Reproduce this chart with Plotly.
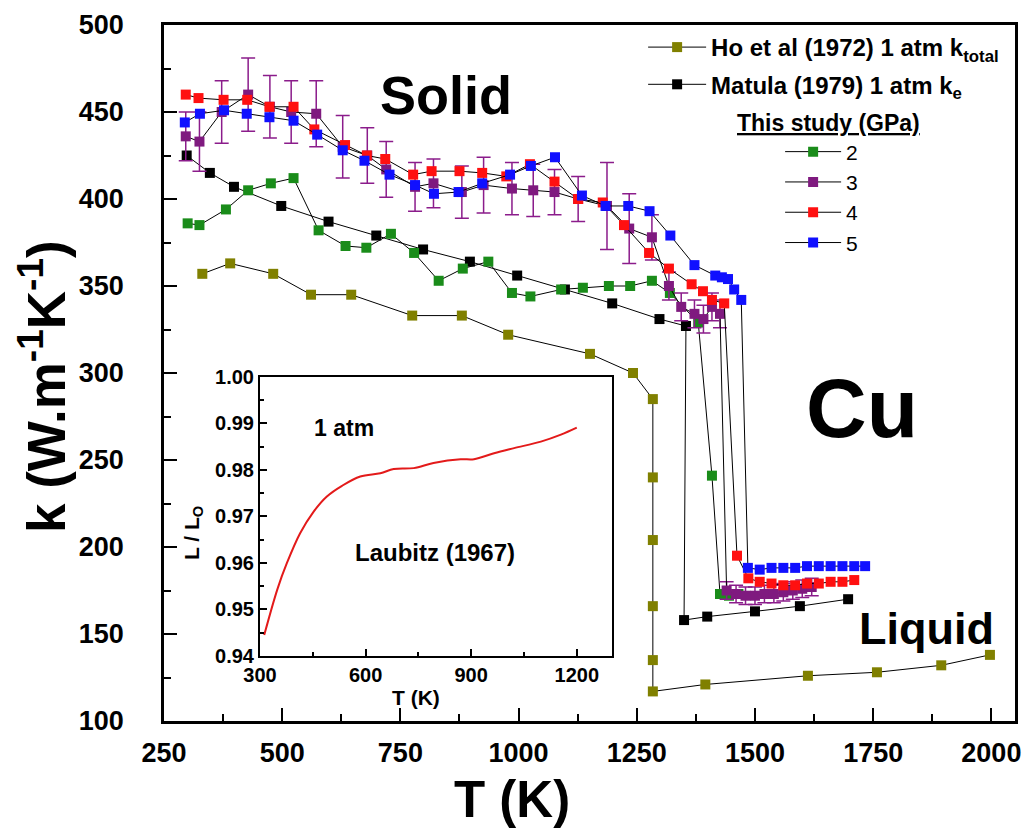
import plotly.graph_objects as go

# ---------------- data ----------------
ho_T = [331, 390, 481, 561, 646, 775, 880, 978, 1151, 1242, 1284, 1284, 1284, 1284, 1284, 1284, 1395, 1612, 1758, 1894, 1997]
ho_k = [357, 363, 357, 345, 345, 333, 333, 322, 311, 300, 285, 240, 204, 166, 135, 117, 121, 126, 128, 132, 138]

mat_T = [298, 347, 398, 498, 598, 699, 798, 897, 997, 1098, 1198, 1298, 1354, 1350, 1399, 1500, 1595, 1697]
mat_k = [425, 415, 407, 396, 387, 379, 371, 364, 356, 348, 340, 331, 327, 158, 160, 163, 166, 170]

g2_T = [300, 325, 381, 428, 476, 524, 577, 634, 678, 730, 779, 831, 882, 936, 986, 1025, 1090, 1136, 1191, 1236, 1282, 1320, 1380, 1409, 1426, 1445, 1465]
g2_k = [386, 385, 394, 405, 409, 412, 382, 373, 372, 380, 369, 353, 360, 364, 346, 344, 348, 349, 350, 350, 353, 346, 329, 241, 173, 172, 173]

p3_T = [296, 325, 372, 428, 474, 519, 572, 628, 680, 720, 781, 820, 880, 926, 986, 1031, 1076, 1126, 1187, 1234, 1282, 1318, 1344, 1372, 1391, 1409, 1426, 1440, 1460, 1480, 1500, 1520, 1540, 1560, 1580, 1600, 1620]
p3_k = [436, 433, 450, 460, 453, 450, 449, 430, 425, 417, 407, 409, 404, 408, 406, 405, 404, 400, 396, 383, 378, 350, 338, 334, 331, 338, 334, 175, 173, 172, 172, 173, 173, 174, 175, 176, 177]
p3_e = [14, 17, 18, 21, 18, 18, 19, 18, 16, 16, 14, 14, 15, 16, 15, 15, 13, 13, 25, 20, 13, 8, 8, 8, 8, 8, 8, 5, 5, 5, 5, 5, 5, 5, 5, 5, 5]

r4_T = [296, 323, 376, 426, 473, 524, 568, 633, 679, 718, 777, 816, 875, 923, 974, 1024, 1076, 1126, 1178, 1223, 1276, 1318, 1366, 1390, 1409, 1435, 1462, 1486, 1510, 1535, 1560, 1585, 1610, 1635, 1660, 1685, 1710]
r4_k = [460, 458, 457, 457, 453, 453, 440, 431, 425, 423, 414, 416, 416, 415, 413, 420, 410, 400, 398, 385, 369, 360, 351, 347, 342, 340, 195, 182, 180, 179, 178, 178, 179, 179, 180, 180, 181]

b5_T = [294, 326, 377, 425, 473, 524, 574, 628, 674, 727, 781, 821, 873, 923, 982, 1026, 1077, 1134, 1184, 1232, 1277, 1321, 1372, 1416, 1430, 1443, 1456, 1471, 1485, 1510, 1535, 1560, 1585, 1610, 1635, 1660, 1685, 1710, 1733]
b5_k = [444, 449, 451, 449, 447, 445, 437, 428, 422, 414, 408, 403, 404, 409, 414, 419, 424, 402, 396, 396, 393, 379, 362, 356, 355, 354, 348, 342, 188, 187, 188, 188, 188, 189, 189, 189, 189, 189, 189]

lau_T = [312, 350, 376, 414, 452, 490, 533, 585, 642, 680, 737, 793, 870, 908, 965, 1022, 1098, 1155, 1200]
lau_r = [0.9445, 0.9545, 0.9599, 0.9664, 0.9710, 0.9743, 0.9766, 0.9786, 0.9793, 0.9802, 0.9804, 0.9815, 0.9823, 0.9823, 0.9836, 0.9847, 0.9861, 0.9876, 0.9891]

FONT = "Liberation Sans, Arial, sans-serif"

fig = go.Figure()

def series(T, k, color, name, legend, group, err=None):
    tr = go.Scatter(
        x=T, y=k, mode="lines+markers", name=name, legend=legend, legendgroup=group,
        line=dict(color="black", width=1),
        marker=dict(symbol="square", size=10, color=color, line=dict(width=0)),
        xaxis="x", yaxis="y",
    )
    if err is not None:
        tr.error_y = dict(type="data", array=err, visible=True, color="#8b1c8b", thickness=1.5, width=7)
    fig.add_trace(tr)

series(ho_T, ho_k, "#808000", "Ho et al (1972) 1 atm k<sub>total</sub>", "legend", "ho")
series(mat_T, mat_k, "black", "Matula (1979) 1 atm k<sub>e</sub>", "legend", "mat")
series(g2_T, g2_k, "#1a8c1a", "2", "legend2", "s")
series(p3_T, p3_k, "#7f1a7f", "3", "legend2", "s", err=p3_e)
series(r4_T, r4_k, "#ff1010", "4", "legend2", "s")
series(b5_T, b5_k, "#1010ff", "5", "legend2", "s")

fig.add_trace(go.Scatter(x=lau_T, y=lau_r, mode="lines", line=dict(color="#e31a1a", width=2, shape="spline"),
                         showlegend=False, xaxis="x2", yaxis="y2"))

axis_common = dict(showline=True, linecolor="black", mirror=True, showgrid=False, zeroline=False,
                   ticks="inside", tickcolor="black", automargin=False)

fig.update_layout(
    width=1025, height=826,
    margin=dict(l=156, r=18, t=17, b=113),
    paper_bgcolor="white", plot_bgcolor="white",
    font=dict(family=FONT, color="black"),
    xaxis=dict(**axis_common, range=[250, 2050], tick0=250, dtick=250, linewidth=2.5, ticklen=13, tickwidth=2,
               minor=dict(ticks="inside", ticklen=7, tickwidth=2, dtick=125, tick0=250),
               tickfont=dict(size=27, weight="bold"), ticklabelstandoff=6),
    yaxis=dict(**axis_common, range=[100, 500], dtick=50, linewidth=2.5, ticklen=13, tickwidth=2,
               minor=dict(ticks="inside", ticklen=7, tickwidth=2, dtick=25),
               tickfont=dict(size=27, weight="bold"), ticklabelstandoff=32),
    xaxis2=dict(**axis_common, domain=[0.1128, 0.5264], anchor="y2", range=[300, 1300], tickvals=[300, 600, 900, 1200],
                linewidth=2, ticklen=7, tickwidth=1.5,
                minor=dict(ticks="inside", ticklen=4, tickwidth=1.5, tickvals=[450, 750, 1050]),
                tickfont=dict(size=20, weight="bold")),
    yaxis2=dict(**axis_common, domain=[0.0934, 0.4943], anchor="x2", range=[0.94, 1.0], dtick=0.01, tickformat=".2f",
                linewidth=2, ticklen=7, tickwidth=1.5,
                minor=dict(ticks="inside", ticklen=4, tickwidth=1.5, dtick=0.005),
                tickfont=dict(size=20, weight="bold")),
    legend=dict(x=0.563, y=1.0, xanchor="left", yanchor="top", bgcolor="rgba(0,0,0,0)",
                font=dict(size=24, weight="bold"), itemwidth=58, tracegroupgap=3),
    legend2=dict(x=0.724, y=0.847, xanchor="left", yanchor="top", bgcolor="rgba(0,0,0,0)",
                 font=dict(size=21), itemwidth=56, tracegroupgap=0),
)

# annotations placed in screenshot-pixel terms converted to paper coords of the main plot
def P(sx, sy):
    return (sx - 164) / 851, (721 - sy) / 696

annos = [
    (446, 95, "Solid", 54, 0),
    (862, 408, "Cu", 84, 0),
    (926, 628, "Liquid", 45, 0),
    (828, 123, "<u>This study (GPa)</u>", 23, 0),
    (512, 800, "T (K)", 51, 0),
    (42, 387, "k (W.m<sup>-1</sup>K<sup>-1</sup>)", 53, -90),
    (416, 697, "T (K)", 21, 0),
    (193, 533, "L / L<sub>O</sub>", 21, -90),
]
for sx, sy, txt, sz, ang in annos:
    px, py = P(sx, sy)
    fig.add_annotation(x=px, y=py, xref="paper", yref="paper", xanchor="center", yanchor="middle",
                       text=txt, showarrow=False, textangle=ang,
                       font=dict(size=sz, weight="bold", family=FONT))

fig.add_annotation(x=538, y=0.989, xref="x2", yref="y2", text="1 atm", showarrow=False,
                   xanchor="center", yanchor="middle", font=dict(size=23, weight="bold"))
fig.add_annotation(x=798, y=0.9622, xref="x2", yref="y2", text="Laubitz (1967)", showarrow=False,
                   xanchor="center", yanchor="middle", font=dict(size=24, weight="bold"))

fig.write_html("out.html")
